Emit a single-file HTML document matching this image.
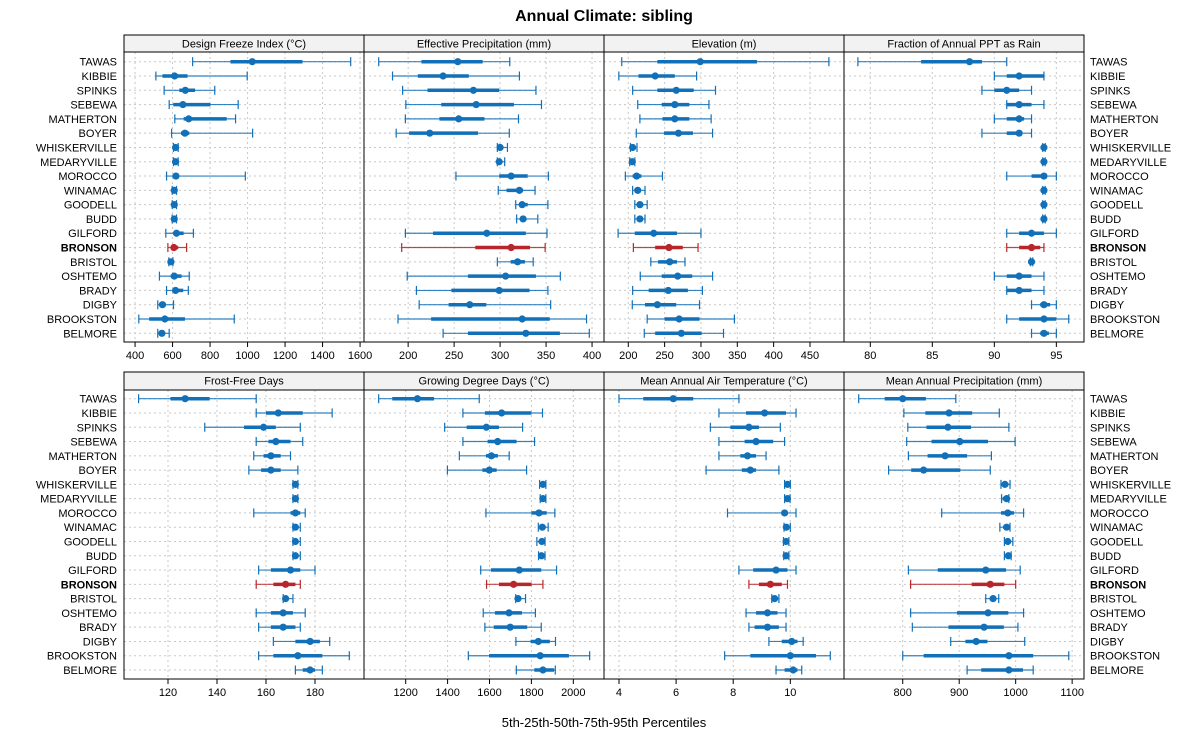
<!DOCTYPE html>
<html><head><meta charset="utf-8">
<style>
body{margin:0;background:#fff;}
svg{display:block;font-family:"Liberation Sans",Arial,sans-serif;}
</style></head>
<body>
<svg id="chart" width="1200" height="750" viewBox="0 0 1200 750" xmlns="http://www.w3.org/2000/svg">
<text x="604" y="21" text-anchor="middle" font-size="16" font-weight="bold">Annual Climate: sibling</text>
<text x="604" y="727" text-anchor="middle" font-size="13">5th-25th-50th-75th-95th Percentiles</text>
</svg>
<script>
const sites = ["TAWAS","KIBBIE","SPINKS","SEBEWA","MATHERTON","BOYER","WHISKERVILLE","MEDARYVILLE","MOROCCO","WINAMAC","GOODELL","BUDD","GILFORD","BRONSON","BRISTOL","OSHTEMO","BRADY","DIGBY","BROOKSTON","BELMORE"];
const highlightSite = "BRONSON";
const panelTitles = ["Design Freeze Index (°C)","Effective Precipitation (mm)","Elevation (m)","Fraction of Annual PPT as Rain","Frost-Free Days","Growing Degree Days (°C)","Mean Annual Air Temperature (°C)","Mean Annual Precipitation (mm)"];
const freezeIndex = [[707,909,1025,1293,1550],[511,546,611,680,998],[555,636,668,720,825],[582,604,655,802,950],[612,659,686,889,936],[595,645,666,689,1027],[605,609,616,623,630],[605,609,616,623,630],[568,600,618,627,988],[598,602,609,616,621],[598,602,609,616,621],[598,602,609,616,621],[564,605,621,659,711],[575,593,607,630,675],[580,586,591,596,602],[530,591,609,648,689],[568,600,616,657,684],[521,534,546,564,605],[420,475,559,666,929],[521,529,543,559,582]];
const effPrecip = [[168,214.5,254,281,310.5],[183,210.5,238,266,321],[194,221,271,299,339],[197.5,236,274,315,345],[197,234,255,283,320],[187,201,223.5,276,310],[297,298,300,302,308],[297,297.5,299,300.5,305],[252,299,312,330,352.5],[298,307,321,325,338],[317,321,324,330,352],[318,322.5,325,328,341],[197,227,285.5,328,351],[193,273,312,332.5,349],[297,311.5,319,327,336],[199,265,306,339,365.5],[209,247,299,332,352],[212,244,267,285,355],[189,225,324,354,394],[238,265,328,365,397]];
const elevation = [[191,240,299,377,476],[187,214,237,264,294],[206,240,266,290,320],[213,246,264,284,311],[216,247,264,284,314],[211,249,269,289,316],[203,205,206,209,212],[202,203,205.5,207,209],[196,206,211.5,218,247],[206,209,213,217,223],[209,212,216,220,226],[209,212,216,220,223],[186,209,235,267,300],[207,237,256,275,296],[231,241,257,267,278],[216.5,246,268,288,316],[206,228,255,282,302],[205.5,223,240,266,298],[226,250,270,298,346],[222,237,273,301,331]];
const rainFraction = [[79,84.1,88,89,91],[90,91,92,94,94],[89,90,91,92,93],[91,91,92,93,94],[90,91,92,92.4,93],[89,91,92,92.2,93],[93.9,93.95,94,94.05,94.1],[93.9,93.95,94,94.05,94.1],[91,93,94,94.1,95],[93.9,93.95,94,94.05,94.1],[93.9,93.95,94,94.05,94.1],[93.9,93.95,94,94.05,94.1],[91,92,93,94,95],[91,92,93,93.7,94],[92.9,92.95,93,93.05,93.1],[90,91,92,93,94],[91,91,92,93,94],[93,93.7,94,94.5,95],[91,92,94,95,96],[93,93.7,94,94.4,95]];
const frostFree = [[108,121,127,137,156],[156,160,165,175,187],[135,151,159,164,174],[156,161,164,170,175],[155,159,162,166,170],[153,158,162,166,173],[171,171.4,172,172.5,173],[171,171.4,172,172.5,173],[155,170,172,174,176],[171,171.3,172,173,174],[171,171.3,172,173,174],[171,171.3,172,172.6,174],[157,162,170,174,180],[156,163,168,172,174],[167,167.3,168,169,171],[156,162,167,171,176],[157,162,167,172,174],[163,172,178,182,186],[157,163,173,183,194],[172,175,178,180,183]];
const gdd = [[1071,1136,1256,1335,1551],[1473,1578,1658,1800,1853],[1386,1491,1585,1645,1758],[1473,1591,1639,1729,1815],[1456,1583,1609,1640,1694],[1399,1566,1599,1634,1777],[1839,1844,1855,1863,1869],[1842,1846,1855,1863,1869],[1583,1800,1836,1873,1912],[1833,1841,1852,1867,1880],[1826,1836,1850,1860,1865],[1834,1839,1848,1860,1865],[1558,1607,1742,1847,1920],[1586,1645,1715,1801,1855],[1725,1728,1736,1745,1772],[1570,1626,1693,1755,1819],[1578,1620,1699,1780,1847],[1726,1796,1833,1888,1915],[1499,1598,1842,1979,2078],[1728,1814,1855,1908,1914]];
const airTemp = [[4.0,4.85,5.9,6.6,8.2],[7.5,8.45,9.1,9.85,10.2],[7.2,7.9,8.55,8.9,9.65],[7.5,8.4,8.8,9.4,9.8],[7.5,8.25,8.5,8.8,9.15],[7.05,8.3,8.6,8.8,9.6],[9.8,9.83,9.9,9.95,10.0],[9.8,9.84,9.9,9.95,9.99],[7.8,9.7,9.8,9.9,10.2],[9.78,9.82,9.86,9.93,10.0],[9.76,9.8,9.85,9.9,9.95],[9.77,9.8,9.85,9.9,9.95],[8.2,8.7,9.5,9.9,10.2],[8.55,8.9,9.3,9.7,9.9],[9.35,9.4,9.45,9.5,9.6],[8.45,8.8,9.2,9.55,9.85],[8.55,8.75,9.2,9.6,9.85],[9.25,9.7,10.05,10.25,10.45],[7.7,8.6,10.0,10.9,11.4],[9.5,9.8,10.1,10.25,10.4]];
const annPrecip = [[722,768,800,841,894],[802,840,882,923,971],[809,842,880,921,988],[807,851,901,951,999],[810,844,875,914,957],[775,815,837,902,955],[974,977,981,987,990],[975,977,984,987,988],[869,974,986,997,1014],[972,978,984,988,990],[980,982,986,989,995],[980,982,987,990,992],[810,862,947,983,1008],[814,922,955,980,1000],[947,954,960,964,970],[814,896,951,987,1014],[817,881,944,979,1004],[885,911,930,950,1016],[800,837,988,1031,1094],[914,939,988,1013,1031]];
const tickSets = [[400,600,800,1000,1200,1400,1600],[200,250,300,350,400],[200,250,300,350,400,450],[80,85,90,95],[120,140,160,180],[1200,1400,1600,1800,2000],[4,6,8,10],[800,900,1000,1100]];

const NS="http://www.w3.org/2000/svg";
const svg=document.getElementById('chart');
const series=[freezeIndex,effPrecip,elevation,rainFraction,frostFree,gdd,airTemp,annPrecip];
const domains=[[341,1621],[152,413],[166.6,496.8],[77.88,97.23],[102.04,200],[1001,2146.5],[3.475,11.88],[696,1121]];
const colX=[124,364,604,844], colW=240;
const rows=[{stripY:35,top:52,bottom:342,y0:61.7,y1:333.3},{stripY:372,top:390,bottom:679,y0:398.7,y1:670}];
const BLUE="#1170b8", RED="#b8262b";
function mk(tag,attrs,parent){const e=document.createElementNS(NS,tag);for(const k in attrs)e.setAttribute(k,attrs[k]);(parent||svg).appendChild(e);return e;}

for(let p=0;p<8;p++){
  const r=rows[Math.floor(p/4)], x0=colX[p%4], x1=x0+colW;
  const dom=domains[p];
  const sx=v=>x0+(v-dom[0])/(dom[1]-dom[0])*colW;
  const sy=i=>r.y0+i*(r.y1-r.y0)/(sites.length-1);
  const g=mk('g',{});
  
  
  const strip=mk('rect',{x:x0,y:r.stripY,width:colW,height:r.top-r.stripY,fill:'#f2f2f2',stroke:'#000','stroke-width':1},g);
  
  
  const st=mk('text',{x:x0+colW/2,y:r.stripY+12.5,'text-anchor':'middle','font-size':11},g);
  st.textContent=panelTitles[p];
  
  
  // grid
  tickSets[p].forEach(t=>{
    const gl=mk('line',{x1:sx(t),x2:sx(t),y1:r.top,y2:r.bottom,stroke:'#c8c8c8','stroke-dasharray':'2,3','stroke-width':1},g);
    
    
  });
  sites.forEach((s,i)=>{
    const gl=mk('line',{x1:x0,x2:x1,y1:sy(i),y2:sy(i),stroke:'#c8c8c8','stroke-dasharray':'2,3','stroke-width':1},g);
    
    
  });
  // ticks
  tickSets[p].forEach(t=>{
    const tk=mk('line',{x1:sx(t),x2:sx(t),y1:r.bottom,y2:r.bottom+5,stroke:'#000'},g);
    
    
    const tl=mk('text',{x:sx(t),y:r.bottom+17,'text-anchor':'middle','font-size':11},g);
    tl.textContent=t;
    
    
  });
  // marks
  series[p].forEach((v,i)=>{
    const c=sites[i]===highlightSite?RED:BLUE, y=sy(i);
    const mg=mk('g',{},g);
    
    
    mk('line',{x1:sx(v[0]),x2:sx(v[4]),y1:y,y2:y,stroke:c,'stroke-width':1.2,'stroke-opacity':0.85},mg);
    mk('line',{x1:sx(v[0]),x2:sx(v[0]),y1:y-4.5,y2:y+4.5,stroke:c,'stroke-width':1.2},mg);
    mk('line',{x1:sx(v[4]),x2:sx(v[4]),y1:y-4.5,y2:y+4.5,stroke:c,'stroke-width':1.2},mg);
    mk('line',{x1:sx(v[1]),x2:sx(v[3]),y1:y,y2:y,stroke:c,'stroke-width':3.5},mg);
    mk('circle',{cx:sx(v[2]),cy:y,r:3.6,fill:c},mg);
  });
  const fr=mk('rect',{x:x0,y:r.top,width:colW,height:r.bottom-r.top,fill:'none',stroke:'#000','stroke-width':1},g);
  
  
}
// site labels
rows.forEach((r,ri)=>{
  sites.forEach((s,i)=>{
    const y=r.y0+i*(r.y1-r.y0)/(sites.length-1)+4;
    const b=s===highlightSite?'bold':'normal';
    const l=mk('text',{x:117,y:y,'text-anchor':'end','font-size':11,'font-weight':b});
    l.textContent=s;
    
    
    const rl=mk('text',{x:1090,y:y,'text-anchor':'start','font-size':11,'font-weight':b});
    rl.textContent=s;
    
    
  });
});
</script>
</body></html>
